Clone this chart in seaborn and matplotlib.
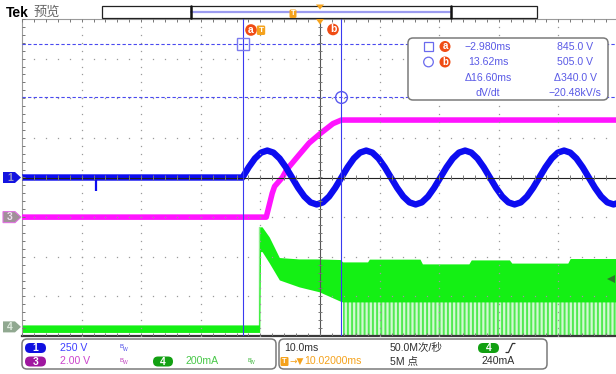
import numpy as np
import pandas as pd
import matplotlib
matplotlib.use("Agg")
import matplotlib.pyplot as plt
from matplotlib.patches import FancyBboxPatch, Rectangle, Polygon, Circle
from matplotlib.collections import LineCollection
import seaborn as sns

sns.set_theme(style="white")
plt.rcParams["font.family"] = ["Liberation Sans", "Noto Sans CJK SC", "DejaVu Sans"]
plt.rcParams["hatch.linewidth"] = 1.4

W, H = 616, 374

# ---- acquisition settings ----------------------------------------------
time_per_div = 10.0      # ms/div
trigger_delay = 10.02    # ms, trigger -> screen centre
ch1_scale = 250.0        # V/div
ch3_scale = 2.0          # V/div
ch4_scale = 200.0        # mA/div
ch1_pos, ch3_pos, ch4_pos = 0.0, -1.0, -3.77   # ground markers, div
trig_level = 240.0       # mA on ch4

# ---- channel 1: line voltage (V) ---------------------------------------
ch1_idle_t = [-40.0, -2.98]
ch1_idle_v = [0, 0]
ch1_glitch_t = [-27.5, -27.5]
ch1_glitch_v = [0, -85]
ch1_wave_t0 = -2.98
ch1_wave_dt = 16.60 / 16
ch1_wave_v = [0, 65, 120, 157, 170, 157, 120, 65, 0, -65, -120, -157, -170, -157, -120, -65,
              0, 65, 120, 157, 170, 157, 120, 65, 0, -65, -120, -157, -170, -157, -120, -65,
              0, 65, 120, 157, 170, 157, 120, 65, 0, -65, -120, -157, -170, -157, -120, -65,
              0, 65, 120, 157, 170, 157, 120, 65, 0, -65, -120, -157, -170, -157, -120, -65]

# ---- channel 3: output voltage (V) -------------------------------------
ch3_t = [-40.0, 1.0, 1.5, 2.0, 2.4, 3.7, 4.4, 5.0, 6.5, 8.2, 10.2, 12.2, 13.6, 60.0]
ch3_v = [0, 0, 0.6, 1.2, 1.55, 2.0, 2.38, 2.6, 3.14, 3.74, 4.25, 4.72, 4.9, 4.9]

# ---- channel 4: input current envelope (mA) ----------------------------
ch4_t   = [-40.0, -0.25, -0.1, 0.05, 0.3, 1.5, 3.2, 6.5, 9.9, 13.4, 13.8, 18.0, 18.3,
           26.8, 27.2, 35.0, 35.4, 41.8, 42.2, 51.6, 52.0, 60.0]
ch4_top = [10, 10, 505, 505, 505, 454, 350, 343, 343, 340, 328, 328, 342,
           342, 318, 318, 338, 338, 322, 322, 345, 345]
ch4_bot = [-28, -28, -28, 380, 380, 323, 237, 202, 177, 130, 126, 126, 126,
           126, 126, 126, 126, 126, 126, 126, 126, 126]
ch4_spike_t = [13.8, 60.0]
ch4_spike_lo = [-45, -45]
ch4_spike_hi = [126, 126]

# ---- cursors -----------------------------------------------------------
cur_t = [-2.980, 13.62]     # ms
cur_v = [845.0, 505.0]      # V on ch1

readout_col1 = ["\u22122.980ms", "13.62ms", "\u039416.60ms", "dV/dt"]
readout_col2 = ["845.0 V", "505.0 V", "\u0394340.0 V", "\u221220.48kV/s"]

C1, C3, C4 = "#0c0cf0", "#ff14ff", "#14f014"
CUR = "#3a3af0"
ORANGE, RED = "#f5a21c", "#f04c14"

fig = plt.figure(figsize=(W / 100, H / 100), dpi=100)
fig.patch.set_facecolor("white")

PX = 59.6                     # pixels per horizontal division
X0, Y0, Y1 = 22, 19, 336      # plot box edges in pixels
ax = fig.add_axes([X0 / W, 1 - Y1 / H, (W - X0) / W, (Y1 - Y0) / H])
t_left = trigger_delay - 5 * time_per_div
t_right = t_left + (W - X0) / PX * time_per_div
ax.set_xlim(t_left, t_right)
ax.set_ylim(-4, 4)
ax.set_xticks([]); ax.set_yticks([])
ax.set_facecolor("white")
ax.spines["right"].set_visible(False)
ax.spines["left"].set_color("#9a9a9a"); ax.spines["left"].set_linewidth(0.8)
ax.spines["top"].set_color("#9a9a9a"); ax.spines["top"].set_linewidth(0.8)
ax.spines["bottom"].set_color("#3a3a3a"); ax.spines["bottom"].set_linewidth(1.6)

ms_px = time_per_div / PX
div_px = 8 / (Y1 - Y0)

# channel 4 current
g_top = np.array(ch4_top) / ch4_scale + ch4_pos
g_bot = np.array(ch4_bot) / ch4_scale + ch4_pos
ax.fill_between(np.array(ch4_spike_t), np.array(ch4_spike_lo) / ch4_scale + ch4_pos,
                np.array(ch4_spike_hi) / ch4_scale + ch4_pos,
                facecolor="#d2f9d2", edgecolor="#52ea52", hatch="||||", linewidth=0, zorder=2)
ax.fill_between(ch4_t, g_bot, g_top, color=C4, linewidth=0, zorder=2.2)
ax.plot([-0.15, -0.15], [ch4_pos, 505 / ch4_scale + ch4_pos], color="#8ff08f", lw=1, zorder=2.1)

# channel 3
df3 = pd.DataFrame({"t": ch3_t, "d": np.array(ch3_v) / ch3_scale + ch3_pos})
sns.lineplot(data=df3, x="t", y="d", ax=ax, color=C3, linewidth=4.0, estimator=None,
             sort=False, legend=False, zorder=3)

# channel 1
wave_t = ch1_wave_t0 + ch1_wave_dt * np.arange(len(ch1_wave_v))
df1 = pd.DataFrame({"t": list(ch1_idle_t) + list(wave_t),
                    "d": (np.array(ch1_idle_v + ch1_wave_v) / ch1_scale + ch1_pos)})
sns.lineplot(data=df1, x="t", y="d", ax=ax, color=C1, linewidth=4.6, estimator=None,
             sort=False, legend=False, zorder=4)
ax.plot(ch1_glitch_t, np.array(ch1_glitch_v) / ch1_scale + ch1_pos, color=C1, lw=1.6,
        solid_capstyle="butt", zorder=4)

# graticule: dotted division lines and the centre cross with ticks
gc = "#9a9a9a"
minor_y = np.arange(-4, 4.001, 0.2)
minor_x = np.arange(t_left, t_right + 0.01, 2.0)
for k in range(1, 10):
    if k == 5:
        continue
    xm = t_left + k * time_per_div
    ax.plot(np.full_like(minor_y, xm), minor_y, ls="none", marker="s", ms=0.9, mew=0,
            color=gc, zorder=6)
for k in range(-3, 4):
    if k == 0:
        continue
    ax.plot(minor_x, np.full_like(minor_x, k), ls="none", marker="s", ms=0.9, mew=0,
            color=gc, zorder=6)
ax.axvline(trigger_delay, color="#555555", lw=0.8, zorder=6)
ax.axhline(0, color="#222222", lw=0.8, zorder=6)
segs = []
for yv in minor_y:
    segs.append([(trigger_delay - 2.2 * ms_px, yv), (trigger_delay + 2.2 * ms_px, yv)])
    segs.append([(t_left, yv), (t_left + 3 * ms_px, yv)])
for xv in minor_x:
    segs.append([(xv, -2.2 * div_px), (xv, 2.2 * div_px)])
    segs.append([(xv, 4), (xv, 4 - 3 * div_px)])
    segs.append([(xv, -4), (xv, -4 + 3 * div_px)])
ax.add_collection(LineCollection(segs, colors="#777777", linewidths=0.7, zorder=6))

# cursors
for t in cur_t:
    ax.axvline(t, color=CUR, lw=0.8, zorder=7)
for v in cur_v:
    ax.axhline(v / ch1_scale + ch1_pos, color="#4a4af0", lw=0.8, ls=(0, (3, 2)), zorder=7)
ax.plot(cur_t[0], cur_v[0] / ch1_scale, marker="s", ms=8, mfc="none", mec="#7a7aee",
        mew=1.0, zorder=8)
ax.plot(cur_t[1], cur_v[1] / ch1_scale, marker="o", ms=8.5, mfc="none", mec="#5a5aee",
        mew=1.0, zorder=8)
# trigger level marker
ax.plot(t_right - 0.9, trig_level / ch4_scale + ch4_pos, marker="<", ms=6, color="#2a7a2a",
        mew=0, zorder=8, clip_on=False)

# ---------------- overlay in pixel coordinates --------------------------
ov = fig.add_axes([0, 0, 1, 1], zorder=5)
ov.set_xlim(0, W); ov.set_ylim(H, 0); ov.axis("off"); ov.patch.set_alpha(0)

def px_x(t):
    return X0 + (t - t_left) / ms_px

def rbox(x0, y0, x1, y1, r, fc, ec, lw=1.0, z=1):
    ov.add_patch(FancyBboxPatch((x0, y0), x1 - x0, y1 - y0,
                                boxstyle=f"round,pad=0,rounding_size={r}",
                                fc=fc, ec=ec, lw=lw, zorder=z))

def pill(x0, x1, yc, color, label, h=10):
    rbox(x0, yc - h / 2, x1, yc + h / 2, h / 2, color, "none", 0, 3)
    ov.text((x0 + x1) / 2, yc + 0.3, label, color="white", ha="center", va="center",
            fontsize=7.5, fontweight="bold", zorder=4)

def bw(x, y, color):
    ov.text(x, y - 1.5, "B", color=color, fontsize=4.3, ha="left", va="center", zorder=4)
    ov.text(x + 3.2, y + 1.5, "W", color=color, fontsize=3.6, ha="left", va="center", zorder=4)

# header
ov.text(6, 12.5, "Tek", fontsize=10, fontweight="bold", color="black", ha="left", va="center",
        family=["Liberation Sans", "DejaVu Sans"])
ov.text(33, 12.5, "预览", fontsize=9.5, color="#666666", ha="left", va="center",
        family=["Noto Sans CJK SC", "DejaVu Sans"])
ov.add_patch(Rectangle((102, 6), 435, 12, fc="white", ec="#222222", lw=0.9, zorder=2))
ov.plot([191, 450], [11.8, 11.8], color="#9c9cf0", lw=1.6, zorder=3)
ov.plot([190.5, 190.5], [6, 18], color="#111111", lw=1.8, zorder=3)
ov.plot([451, 451], [6, 18], color="#111111", lw=1.8, zorder=3)
rbox(289.5, 9.5, 296.5, 18, 1.5, ORANGE, "none", 0, 4)
ov.text(293, 13.8, "T", color="white", fontsize=5.5, fontweight="bold", ha="center",
        va="center", zorder=5)
xc = px_x(trigger_delay)
ov.add_patch(Polygon([(xc - 4, 4.5), (xc + 4, 4.5), (xc, 9.5)], fc=ORANGE, ec="none", zorder=4))
ov.add_patch(Polygon([(xc - 4, 19), (xc + 4, 19), (xc, 24.5)], fc=ORANGE, ec="none", zorder=8))

# cursor tags
ov.add_patch(Circle((251, 30), 5.8, fc=RED, ec="none", zorder=4))
ov.text(251, 29.6, "a", color="white", fontsize=7.5, fontweight="bold", ha="center", va="center", zorder=5)
rbox(256.8, 25.5, 265.2, 35, 1.5, ORANGE, "none", 0, 4)
ov.text(261, 30.3, "T", color="white", fontsize=6, fontweight="bold", ha="center", va="center", zorder=5)
ov.add_patch(Circle((333, 29.5), 5.8, fc=RED, ec="none", zorder=4))
ov.text(333, 29.1, "b", color="white", fontsize=7.5, fontweight="bold", ha="center", va="center", zorder=5)

# cursor readout
RC = "#5a5ae6"
rbox(408, 38, 608, 100, 5, "white", "#7a7a7a", 1.1, 2)
rows_y = [46.5, 62, 77.5, 92.5]
ov.add_patch(Rectangle((424, 42), 8.5, 9, fc="none", ec="#6a6aee", lw=0.9, zorder=3))
ov.add_patch(Circle((428.5, 62), 4.8, fc="none", ec="#6a6aee", lw=0.9, zorder=3))
for yy, lab in zip(rows_y[:2], ["a", "b"]):
    ov.add_patch(Circle((445, yy), 5.5, fc=RED, ec="none", zorder=3))
    ov.text(445, yy - 0.4, lab, color="white", fontsize=7, fontweight="bold",
            ha="center", va="center", zorder=4)
for yy, s1, s2 in zip(rows_y, readout_col1, readout_col2):
    ov.text(488, yy, s1, color=RC, fontsize=7.6, ha="center", va="center", zorder=4)
    ov.text(575, yy, s2, color=RC, fontsize=7.6, ha="center", va="center", zorder=4)

# channel ground markers
def tag(yc, fc, tc, label, ec="none"):
    ov.add_patch(Polygon([(3, yc - 5.5), (15, yc - 5.5), (21, yc), (15, yc + 5.5), (3, yc + 5.5)],
                         fc=fc, ec=ec, lw=0.8, zorder=3))
    ov.text(10, yc + 0.3, label, color=tc, fontsize=7.5, fontweight="bold",
            ha="center", va="center", zorder=4)

def pos_px(d):
    return Y0 + (4 - d) / div_px

tag(pos_px(ch1_pos), "#1414e0", "#9a9ac8", "1")
tag(pos_px(ch3_pos), "#a09098", "#f0e0f0", "3", ec="#e070e0")
tag(pos_px(ch4_pos), "#90a890", "#e0ece0", "4")

# status panels
rbox(22, 339, 276, 369, 5, "white", "#7a7a7a", 1.1, 2)
rbox(279, 339, 547, 369, 5, "white", "#7a7a7a", 1.1, 2)
r1, r2 = 348, 361.5
pill(25, 46, r1, "#1010e0", "1")
ov.text(60, r1, "250 V", color="#4040ff", fontsize=7.6, ha="left", va="center", zorder=4)
bw(120, r1, "#4848e8")
pill(25, 46, r2, "#a018a0", "3")
ov.text(60, r2, "2.00 V", color="#cc44cc", fontsize=7.6, ha="left", va="center", zorder=4)
bw(120, r2, "#c040c0")
pill(153, 173, r2, "#12a012", "4")
ov.text(186, r2, "200mA", color="#48c848", fontsize=7.6, ha="left", va="center", zorder=4)
bw(247, r2, "#40b840")

TC = "#303030"
ov.text(284, r1, "10.0ms", color=TC, fontsize=7.6, ha="left", va="center", zorder=4)
ov.text(390, r1, "50.0M次/秒", color=TC, fontsize=7.6, ha="left", va="center", zorder=4)
pill(478, 499, r1, "#12a012", "4")
ov.plot([506, 508.5, 512.5, 515], [352.5, 352.5, 343.5, 343.5], color=TC, lw=0.9, zorder=4)
rbox(280.5, 357, 288.5, 366, 1.2, ORANGE, "none", 0, 4)
ov.text(284.5, r2 + 0.2, "T", color="white", fontsize=5.5, fontweight="bold",
        ha="center", va="center", zorder=5)
ov.text(289.5, r2, "\u2192\u25bc", color=ORANGE, fontsize=6.5, ha="left", va="center",
        zorder=4, family=["DejaVu Sans"])
ov.text(304, r2, "10.02000ms", color=ORANGE, fontsize=7.6, ha="left", va="center", zorder=4)
ov.text(390, r2, "5M 点", color=TC, fontsize=7.6, ha="left", va="center", zorder=4)
ov.text(482, r2, "240mA", color=TC, fontsize=7.6, ha="left", va="center", zorder=4)

fig.savefig("out.png", dpi=100, facecolor="white")
